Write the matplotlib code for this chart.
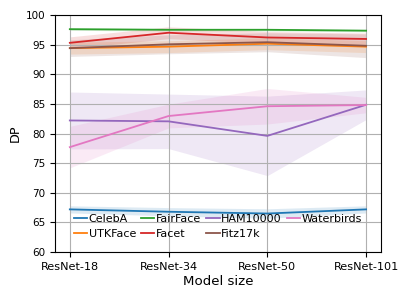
import numpy as np
import matplotlib.pyplot as plt

models = ['ResNet-18', 'ResNet-34', 'ResNet-50', 'ResNet-101']

# mean DP per dataset, and spread for the shaded band
datasets = ['CelebA', 'UTKFace', 'FairFace', 'Facet', 'HAM10000', 'Fitz17k', 'Waterbirds']
celeba = [67.2, 66.8, 66.5, 67.2]
celeba_sd = [0.6, 0.7, 0.8, 0.6]
utkface = [94.4, 94.65, 95.15, 94.65]
utkface_sd = [1.0, 1.0, 1.0, 1.0]
fairface = [97.6, 97.5, 97.5, 97.35]
fairface_sd = [0.2, 0.2, 0.2, 0.2]
facet = [95.3, 97.0, 96.2, 95.95]
facet_sd = [1.0, 1.0, 1.0, 1.0]
ham = [82.2, 82.05, 79.6, 84.85]
ham_sd = [4.8, 4.6, 6.7, 2.5]
fitz = [94.4, 95.05, 95.4, 94.8]
fitz_sd = [1.4, 1.6, 1.6, 2.0]
waterbirds = [77.7, 82.95, 84.6, 84.8]
waterbirds_sd = [3.5, 2.0, 3.0, 1.3]

means = [celeba, utkface, fairface, facet, ham, fitz, waterbirds]
sds = [celeba_sd, utkface_sd, fairface_sd, facet_sd, ham_sd, fitz_sd, waterbirds_sd]

fig = plt.figure(figsize=(4.11, 2.99), dpi=100)
ax = fig.add_axes([0.1338, 0.157, 0.793, 0.793])

x = np.arange(len(models))
for i, name in enumerate(datasets):
    m = np.array(means[i])
    s = np.array(sds[i])
    ax.plot(x, m, color='C%d' % i, lw=1.3, label=name)
    ax.fill_between(x, m - s, m + s, color='C%d' % i, alpha=0.15, lw=0)

ax.set_xticks(x)
ax.set_xticklabels(models)
ax.set_ylim(60, 100)
ax.grid(True)
ax.set_xlabel('Model size', fontsize=9.6, labelpad=2)
ax.set_ylabel('DP', fontsize=9.2, labelpad=3)
ax.tick_params(axis='x', labelsize=8.1)
ax.tick_params(axis='y', labelsize=7.5)

ax.legend(ncol=4, loc='lower center', frameon=False, fontsize=8,
          handlelength=1.2, handletextpad=0.15, columnspacing=0.45,
          labelspacing=0.45, borderaxespad=0.8)

plt.savefig('out.png', dpi=100)
